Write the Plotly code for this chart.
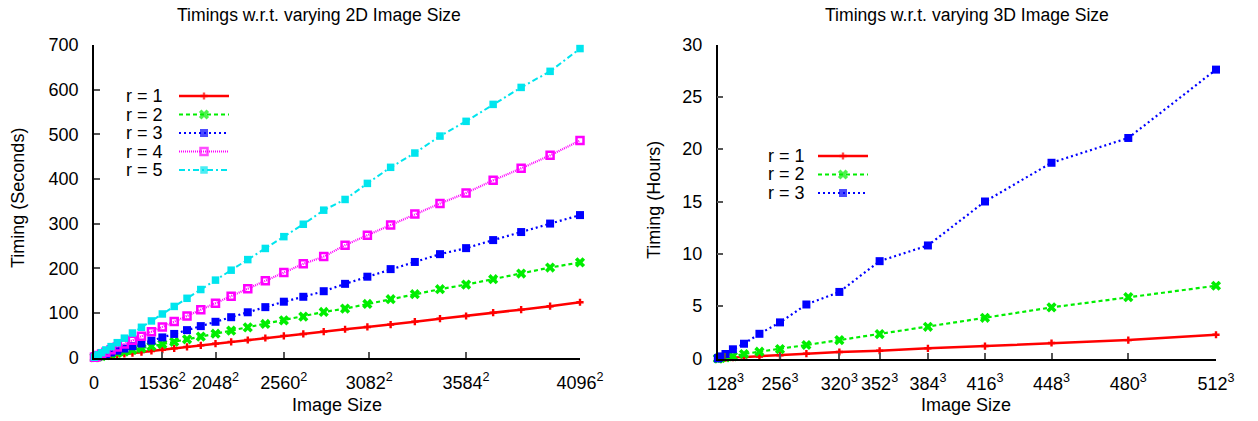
import plotly.graph_objects as go

# ---------------- data ----------------
# 2D: image side lengths (image size = side^2 pixels)
sides_2d = [128, 256, 384, 512, 640, 768, 896, 1024, 1152, 1280, 1408, 1536, 1664, 1792, 1920, 2048,
            2176, 2304, 2432, 2560, 2688, 2816, 2944, 3072, 3200, 3328, 3456, 3584, 3712, 3840, 3968, 4096]
sec_r1 = [0.1, 0.5, 1.1, 1.9, 3.0, 4.4, 5.9, 7.8, 9.8, 12.1, 14.7, 17.4, 20.5, 23.7, 27.2, 31.0,
          35.0, 39.2, 43.7, 48.4, 52.7, 57.9, 63.3, 68.4, 73.6, 80.3, 87.0, 93.0, 100.5, 107.2, 114.9, 123.8]
sec_r2 = [0.2, 0.8, 1.9, 3.3, 5.2, 7.5, 10.2, 13.3, 16.8, 20.8, 25.2, 30.0, 35.2, 40.8, 46.8, 53.3,
          60.1, 67.4, 75.1, 83.2, 91.5, 102.0, 109.5, 120.0, 130.6, 141.8, 153.0, 163.3, 175.4, 188.0, 201.5, 213.0]
sec_r3 = [0.3, 1.2, 2.8, 5.0, 7.8, 11.2, 15.3, 20.0, 25.3, 31.3, 37.8, 45.0, 52.8, 61.3, 70.3, 80.0,
          90.3, 101.3, 112.8, 125.0, 136.0, 148.5, 165.0, 181.0, 198.0, 214.0, 231.5, 245.0, 263.0, 281.0, 300.0, 319.0]
sec_r4 = [0.5, 1.9, 4.3, 7.6, 11.9, 17.1, 23.3, 30.4, 38.5, 47.6, 57.5, 68.5, 80.4, 93.2, 107.0, 121.8,
          137.4, 154.1, 171.7, 190.2, 209.8, 226.0, 251.6, 274.0, 297.0, 321.5, 345.0, 368.6, 396.8, 423.7, 452.8, 486.0]
sec_r5 = [0.7, 2.7, 6.1, 10.8, 16.9, 24.4, 33.2, 43.3, 54.8, 67.7, 81.9, 97.5, 114.4, 132.6, 152.3, 173.3,
          195.6, 219.3, 244.3, 270.7, 298.5, 330.0, 354.0, 390.0, 426.0, 458.0, 496.0, 529.0, 567.0, 605.0, 641.0, 692.0]

# 3D: volume side lengths (image size = side^3 voxels)
sides_3d = [32, 64, 96, 128, 160, 192, 224, 256, 288, 320, 352, 384, 416, 448, 480, 512]
hrs_r1 = [0.001, 0.005, 0.015, 0.035, 0.07, 0.12, 0.19, 0.30, 0.46, 0.62, 0.74, 0.97, 1.19, 1.48, 1.76, 2.27]
hrs_r2 = [0.002, 0.01, 0.05, 0.11, 0.21, 0.43, 0.65, 0.90, 1.29, 1.76, 2.33, 3.03, 3.89, 4.88, 5.86, 6.95]
hrs_r3 = [0.01, 0.06, 0.20, 0.43, 0.88, 1.41, 2.36, 3.45, 5.16, 6.36, 9.30, 10.80, 15.00, 18.70, 21.07, 27.60]

ticks_2d = [0, 1536, 2048, 2560, 3082, 3584, 4096]
ticklabels_2d = ["0", "1536<sup>2</sup>", "2048<sup>2</sup>", "2560<sup>2</sup>", "3082<sup>2</sup>",
                 "3584<sup>2</sup>", "4096<sup>2</sup>"]
ticks_3d = [128, 256, 320, 352, 384, 416, 448, 480, 512]
ticklabels_3d = ["128<sup>3</sup>", "256<sup>3</sup>", "320<sup>3</sup>", "352<sup>3</sup>", "384<sup>3</sup>",
                 "416<sup>3</sup>", "448<sup>3</sup>", "480<sup>3</sup>", "512<sup>3</sup>"]

series_labels = ["r = 1", "r = 2", "r = 3", "r = 4", "r = 5"]

# ---------------- geometry ----------------
FONT = "Liberation Sans, Arial, Helvetica, sans-serif"
W, H = 1258, 421


def px(x):
    return x / W


def py(y):
    return 1 - y / H


styles = [
    dict(color="#ff0000", dash="solid", width=2.5, symbol="cross", msize=6, mline=0),
    dict(color="#00ee00", dash="4px,3px", width=2.2, symbol="x", msize=9, mline=0),
    dict(color="#0000ff", dash="2px,3px", width=2.2, symbol="square", msize=8, mline=0),
    dict(color="#ff00ff", dash="1px,1px", width=2.2, symbol="square-open", msize=7, mline=2.5),
    dict(color="#00e5ee", dash="6px,3px,2px,3px", width=2.0, symbol="square", msize=7.5, mline=0),
]

fig = go.Figure()


def add_series(xs, ys, st, xa, ya):
    fig.add_trace(go.Scatter(
        x=xs, y=ys, mode="lines+markers", xaxis=xa, yaxis=ya, showlegend=False, cliponaxis=False,
        line=dict(color=st["color"], dash=st["dash"], width=st["width"]),
        marker=dict(symbol=st["symbol"], size=st["msize"], color=st["color"],
                    line=dict(color=st["color"], width=st["mline"])),
    ))


x2d = [s ** 2 for s in sides_2d]
for ys, st in zip([sec_r1, sec_r2, sec_r3, sec_r4, sec_r5], styles):
    add_series(x2d, ys, st, "x", "y")

x3d = [s ** 3 for s in sides_3d]
for ys, st in zip([hrs_r1, hrs_r2, hrs_r3], styles[:3]):
    add_series(x3d, ys, st, "x2", "y2")

# ---------------- legends (gnuplot style: text left, sample right) ----------------
annotations = []


def add_legend(labels, text_right, sample_l, sample_r, y_rows):
    for lab, st, yy in zip(labels, styles, y_rows):
        annotations.append(dict(x=px(text_right), y=py(yy), xref="paper", yref="paper",
                                text=lab, showarrow=False, xanchor="right", yanchor="middle",
                                font=dict(family=FONT, size=18, color="black")))
        fig.add_trace(go.Scatter(
            x=[sample_l, (sample_l + sample_r) / 2, sample_r], y=[yy, yy, yy],
            mode="lines+markers", xaxis="x3", yaxis="y3", showlegend=False, hoverinfo="skip",
            cliponaxis=False,
            line=dict(color=st["color"], dash=st["dash"], width=st["width"]),
            marker=dict(symbol=st["symbol"], size=[0, st["msize"], 0], color=st["color"],
                        line=dict(color=st["color"], width=st["mline"])),
        ))


add_legend(series_labels, 165, 179, 229, [96, 114.5, 133, 151.5, 170])
add_legend(series_labels[:3], 807, 818, 868, [156, 174.5, 193])


# ---------------- titles ----------------
def ann(text, x, y, size=18, angle=0):
    annotations.append(dict(x=px(x), y=py(y), xref="paper", yref="paper", text=text,
                            showarrow=False, xanchor="center", yanchor="middle", textangle=angle,
                            font=dict(family=FONT, size=size, color="black")))


ann("Timings w.r.t. varying 2D Image Size", 318.5, 15, size=17.6)
ann("Timings w.r.t. varying 3D Image Size", 967, 15, size=17.6)
ann("Image Size", 337, 405)
ann("Image Size", 966, 405)
ann("Timing (Seconds)", 18, 198, angle=-90)
ann("Timing (Hours)", 654, 200, angle=-90)

# ---------------- axes ----------------
common = dict(showline=True, linecolor="black", linewidth=1.5, mirror=False, showgrid=False,
              zeroline=False, ticks="inside", ticklen=6, tickwidth=1.5, tickcolor="#555555",
              tickfont=dict(family=FONT, size=18, color="black"), automargin=False)

fig.update_layout(
    width=W, height=H,
    margin=dict(l=0, r=0, t=0, b=0),
    paper_bgcolor="white", plot_bgcolor="rgba(0,0,0,0)",
    font=dict(family=FONT, size=18, color="black"),
    xaxis=dict(domain=[px(94), px(580)], range=[0, 4096 ** 2], anchor="y",
               tickmode="array", tickvals=[t ** 2 for t in ticks_2d], ticktext=ticklabels_2d,
               ticklabelstandoff=8, **common),
    yaxis=dict(domain=[py(357.5), py(45)], range=[0, 700], anchor="x", tickmode="array",
               tickvals=[0, 100, 200, 300, 400, 500, 600, 700], ticklabelstandoff=10, **common),
    xaxis2=dict(domain=[px(717.7), px(1216)], range=[0, 512 ** 3], anchor="y2",
                tickmode="array", tickvals=[t ** 3 for t in ticks_3d], ticktext=ticklabels_3d,
                ticklabelstandoff=8, **common),
    yaxis2=dict(domain=[py(358.5), py(44.5)], range=[0, 30], anchor="x2", tickmode="array",
                tickvals=[0, 5, 10, 15, 20, 25, 30], ticklabelstandoff=10, **common),
    xaxis3=dict(domain=[0, 1], range=[0, W], anchor="y3", visible=False, fixedrange=True),
    yaxis3=dict(domain=[0, 1], range=[H, 0], anchor="x3", visible=False, fixedrange=True),
    annotations=annotations,
    showlegend=False,
)

fig.write_html("out.html", config={"displayModeBar": False},
               post_script="document.body.style.margin='0px';")
